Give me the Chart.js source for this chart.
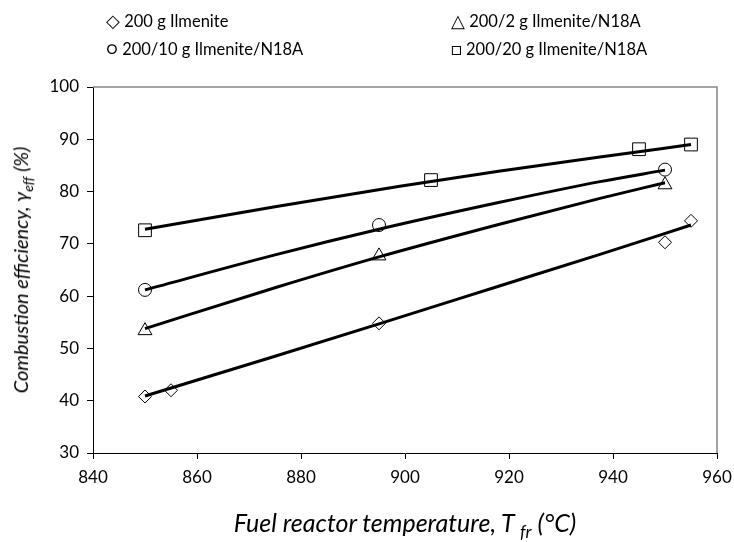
<!DOCTYPE html>
<html>
<head>
<meta charset="utf-8">
<script src="https://cdn.jsdelivr.net/npm/chart.js@4"></script>
<style>
  body { margin: 0; background: #fff; }
  #wrap { position: relative; width: 734px; height: 542px; font-family: Lato, "Open Sans", sans-serif; }
  #grafico { position: absolute; left: 0; top: 0; }
  .leg { position: absolute; font-size: 16.5px; color: #000; white-space: nowrap; line-height: 20px; }
  .leg .sim { font-size: 18px; }
  .titulo { position: absolute; font-style: italic; color: #000; white-space: nowrap; }
  #tituloX { font-size: 25px; left: 405px; top: 524px; transform: translate(-50%, -50%); }
  #tituloY { font-size: 20px; left: 22px; top: 270px; transform: translate(-50%, -50%) rotate(-90deg); }
  sub { font-size: 70%; }
</style>
</head>
<body>
<div id="wrap">
  <canvas id="grafico" width="734" height="542"></canvas>
  <div class="leg" style="left:106px; top:10px"><span class="sim">&#9671;</span> 200 g Ilmenite</div>
  <div class="leg" style="left:451px; top:10px"><span class="sim">&#9651;</span> 200/2 g Ilmenite/N18A</div>
  <div class="leg" style="left:106px; top:38px"><span class="sim">&#9675;</span> 200/10 g Ilmenite/N18A</div>
  <div class="leg" style="left:451px; top:38px"><span class="sim">&#9633;</span> 200/20 g Ilmenite/N18A</div>
  <div class="titulo" id="tituloX">Fuel reactor temperature, T <sub>fr</sub> (°C)</div>
  <div class="titulo" id="tituloY">Combustion efficiency, γ<sub>eff</sub> (%)</div>
</div>
<script>
// Dados

// pontos medidos
const tempIlm = [850, 855, 895, 950, 955];
const efIlm = [40.8, 42.0, 54.8, 70.3, 74.4];

const tempN2 = [850, 895, 950];
const efN2 = [53.4, 67.7, 81.3];

const tempN10 = [850, 895, 950];
const efN10 = [61.2, 73.6, 84.2];

const tempN20 = [850, 905, 945, 955];
const efN20 = [72.6, 82.2, 88.1, 89.0];

// linhas de tendência (lidas ao longo das curvas)
const tendIlmX = [850, 875, 895, 918, 937.5, 955];
const tendIlmY = [40.9, 48.5, 54.7, 61.9, 68.0, 73.6];

const tendN2X = [850, 875, 895, 918, 937.5, 950];
const tendN2Y = [53.8, 61.6, 67.5, 73.7, 78.7, 81.7];

const tendN10X = [850, 875, 895, 918, 937.5, 950];
const tendN10Y = [61.2, 67.9, 72.8, 77.9, 81.9, 84.1];

const tendN20X = [850, 875, 899, 918, 937.5, 955];
const tendN20Y = [72.8, 77.1, 81.0, 83.9, 86.6, 89.0];

// eixos
const eixoXMin = 840, eixoXMax = 960, eixoXPasso = 20;
const eixoYMin = 30, eixoYMax = 100, eixoYPasso = 10;

function pares(xs, ys) {
    return xs.map((x, i) => ({ x: x, y: ys[i] }));
}

function tendencia(xs, ys) {
    return {
        data: pares(xs, ys),
        showLine: true,
        borderColor: '#000',
        borderWidth: 3,
        pointRadius: 0,
        cubicInterpolationMode: 'monotone',
        fill: false
    };
}

function marcadores(xs, ys, estilo, raio) {
    return {
        data: pares(xs, ys),
        showLine: false,
        pointStyle: estilo,
        pointRadius: raio,
        pointBorderWidth: 1,
        pointBorderColor: '#000',
        pointBackgroundColor: 'rgba(0,0,0,0)'
    };
}

// moldura cinza em cima e à direita
const moldura = {
    id: 'moldura',
    afterDraw(chart) {
        const a = chart.chartArea;
        const c = chart.ctx;
        c.save();
        c.strokeStyle = '#868686';
        c.lineWidth = 1.5;
        c.beginPath();
        c.moveTo(a.left, a.top);
        c.lineTo(a.right, a.top);
        c.lineTo(a.right, a.bottom);
        c.stroke();
        c.restore();
    }
};

const fonteTicks = { family: 'Lato, "Open Sans", sans-serif', size: 17 };

const ctx = document.getElementById('grafico');
new Chart(ctx, {
    type: 'scatter',
    data: {
        datasets: [
            tendencia(tendIlmX, tendIlmY),
            tendencia(tendN2X, tendN2Y),
            tendencia(tendN10X, tendN10Y),
            tendencia(tendN20X, tendN20Y),
            marcadores(tempIlm, efIlm, 'rectRot', 6.5),
            marcadores(tempN2, efN2, 'triangle', 8),
            marcadores(tempN10, efN10, 'circle', 6.5),
            marcadores(tempN20, efN20, 'rect', 9)
        ]
    },
    options: {
        responsive: false,
        animation: false,
        layout: { padding: { left: 0, top: 87, right: 17, bottom: 0 } },
        plugins: {
            legend: { display: false },
            tooltip: { enabled: false }
        },
        scales: {
            x: {
                type: 'linear',
                min: eixoXMin,
                max: eixoXMax,
                afterFit: s => { s.height = 89; s.paddingLeft = 0; s.paddingRight = 0; },
                ticks: { stepSize: eixoXPasso, color: '#000', font: fonteTicks, padding: 8 },
                grid: { drawOnChartArea: false, drawTicks: true, tickLength: 6, color: '#000' },
                border: { display: true, color: '#000', width: 1 }
            },
            y: {
                type: 'linear',
                min: eixoYMin,
                max: eixoYMax,
                afterFit: s => { s.width = 93; s.paddingTop = 0; s.paddingBottom = 0; },
                ticks: { stepSize: eixoYPasso, color: '#000', font: fonteTicks, padding: 8 },
                grid: { drawOnChartArea: false, drawTicks: true, tickLength: 6, color: '#000' },
                border: { display: true, color: '#000', width: 1 }
            }
        }
    },
    plugins: [moldura]
});
</script>
</body>
</html>
